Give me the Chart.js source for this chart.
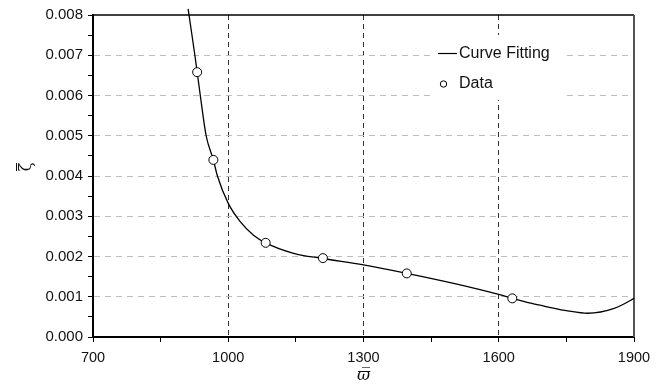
<!DOCTYPE html>
<html>
<head>
<meta charset="utf-8">
<script src="https://cdn.jsdelivr.net/npm/chart.js@4/dist/chart.umd.min.js"></script>
<style>
  html, body { margin: 0; padding: 0; background: #fff; }
  #wrap { width: 664px; height: 385px; }
</style>
</head>
<body>
<div id="wrap"><canvas id="dampingChart"></canvas></div>
<script>
// fitted curve
const curveX = [911, 926, 938, 951, 967, 976, 1000, 1027, 1056, 1083, 1145, 1210, 1300, 1396, 1500, 1602, 1630, 1671, 1708, 1753, 1797, 1856, 1900, 1912];
const curveY = [0.00815, 0.0070, 0.0060, 0.0050, 0.0044, 0.0040, 0.00332, 0.00286, 0.00253, 0.00234, 0.00208, 0.00195, 0.00179, 0.00158, 0.00133, 0.00105, 0.00096, 0.00084, 0.00075, 0.00065, 0.00059, 0.00071, 0.00096, 0.00104];

// measured points
const dataX = [931, 967, 1083, 1210, 1396, 1630];
const dataY = [0.00658, 0.0044, 0.00234, 0.00196, 0.00158, 0.00096];

const xLabels = [700, 1000, 1300, 1600, 1900];
const legendLabels = ['Curve Fitting', 'Data'];
const yTitle = 'ζ';

const isMajorX = v => xLabels.includes(v);
const isMajorY = v => Math.round(v * 10000) % 10 === 0;

const legendBox = {
  id: 'legendBox',
  afterDraw(chart) {
    const ctx = chart.ctx;
    ctx.save();
    ctx.fillStyle = '#fff';
    ctx.fillRect(430, 35, 132, 65);
    ctx.strokeStyle = '#000';
    ctx.lineWidth = 1.2;
    ctx.beginPath();
    ctx.moveTo(438, 53.5);
    ctx.lineTo(457, 53.5);
    ctx.stroke();
    ctx.lineWidth = 1;
    ctx.beginPath();
    ctx.arc(443.5, 84, 3.2, 0, Math.PI * 2);
    ctx.stroke();
    ctx.fillStyle = '#111';
    ctx.font = '16px "Liberation Sans", Arial, sans-serif';
    ctx.textBaseline = 'middle';
    ctx.fillText(legendLabels[0], 459, 54);
    ctx.fillText(legendLabels[1], 459, 84);
    ctx.restore();
  }
};

// rotated zeta with an overbar (combining mark doesn't show on it)
const yTitleDraw = {
  id: 'yTitleDraw',
  afterDraw(chart) {
    const ctx = chart.ctx;
    ctx.save();
    ctx.translate(27, 167);
    ctx.rotate(-Math.PI / 2);
    ctx.fillStyle = '#111';
    ctx.font = '16px "DejaVu Serif", serif';
    ctx.textAlign = 'center';
    ctx.textBaseline = 'middle';
    ctx.fillText(yTitle, 0, 0);
    ctx.strokeStyle = '#111';
    ctx.lineWidth = 1;
    ctx.beginPath();
    ctx.moveTo(-4, -10.5);
    ctx.lineTo(4, -10.5);
    ctx.stroke();
    ctx.restore();
  }
};

const frame = {
  id: 'frame',
  beforeDatasetsDraw(chart) {
    const { ctx, chartArea: a } = chart;
    ctx.save();
    ctx.strokeStyle = '#000';
    ctx.lineWidth = 1.5;
    ctx.beginPath();
    ctx.moveTo(a.left, a.top);
    ctx.lineTo(a.right, a.top);
    ctx.stroke();
    ctx.strokeStyle = '#555';
    ctx.lineWidth = 2;
    ctx.beginPath();
    ctx.moveTo(a.right, a.top);
    ctx.lineTo(a.right, a.bottom);
    ctx.stroke();
    ctx.restore();
  }
};

const ctx = document.getElementById('dampingChart').getContext('2d');
new Chart(ctx, {
  type: 'scatter',
  data: {
    datasets: [
      {
        label: legendLabels[0],
        data: curveX.map((x, i) => ({ x: x, y: curveY[i] })),
        showLine: true,
        borderColor: '#000',
        borderWidth: 1.3,
        pointRadius: 0,
        cubicInterpolationMode: 'monotone',
        clip: 8,
        order: 2
      },
      {
        label: legendLabels[1],
        data: dataX.map((x, i) => ({ x: x, y: dataY[i] })),
        showLine: false,
        pointRadius: 4.5,
        pointBackgroundColor: '#fff',
        pointBorderColor: '#000',
        pointBorderWidth: 1,
        order: 1
      }
    ]
  },
  options: {
    responsive: true,
    maintainAspectRatio: false,
    animation: false,
    layout: { padding: { left: 0, right: 30, top: 15, bottom: 0 } },
    plugins: {
      legend: { display: false },
      tooltip: { enabled: false }
    },
    scales: {
      x: {
        type: 'linear',
        min: 700,
        max: 1900,
        afterFit: scale => { scale.height = 48; },
        ticks: {
          stepSize: 150,
          autoSkip: false,
          maxRotation: 0,
          padding: 7,
          color: '#111',
          font: { family: '"Liberation Sans", Arial, sans-serif', size: 14.5 },
          callback: v => isMajorX(v) ? String(v) : ''
        },
        grid: {
          color: c => (c.tick && isMajorX(c.tick.value) && c.tick.value > 700 && c.tick.value < 1900) ? '#333' : 'rgba(0,0,0,0)',
          lineWidth: 1,
          tickColor: '#000',
          tickLength: 5,
          tickWidth: 1
        },
        border: { color: '#000', width: 2, dash: [5, 4] },
        title: {
          display: true,
          text: 'ϖ\u0305',
          color: '#111',
          padding: { top: 0, bottom: 0 },
          font: { family: '"DejaVu Serif", serif', size: 16, style: 'italic' }
        }
      },
      y: {
        min: 0,
        max: 0.008,
        afterFit: scale => { scale.width = 93; },
        ticks: {
          stepSize: 0.0005,
          autoSkip: false,
          padding: 5,
          color: '#111',
          font: { family: '"Liberation Sans", Arial, sans-serif', size: 15 },
          callback: v => isMajorY(v) ? v.toFixed(3) : ''
        },
        grid: {
          color: c => (c.tick && isMajorY(c.tick.value) && c.tick.value > 0 && c.tick.value < 0.008) ? '#bdbdbd' : 'rgba(0,0,0,0)',
          lineWidth: 1,
          tickColor: '#000',
          tickLength: 5,
          tickWidth: 1
        },
        border: { color: '#000', width: 2, dash: [6, 5] }
      }
    }
  },
  plugins: [frame, legendBox, yTitleDraw]
});
</script>
</body>
</html>
